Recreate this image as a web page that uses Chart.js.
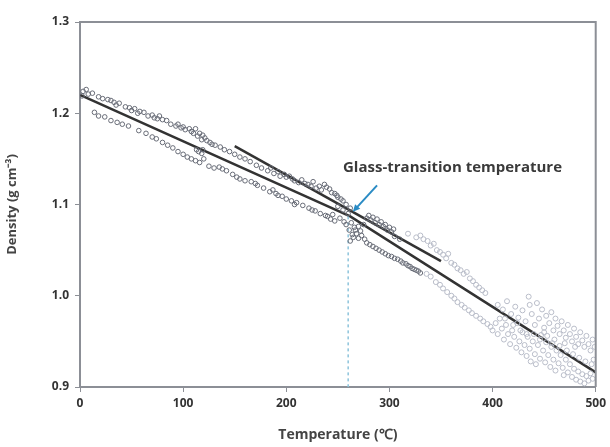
<!DOCTYPE html>
<html>
<head>
    <title>Density vs Temperature</title>
    <script src="https://cdn.jsdelivr.net/npm/chart.js"></script>
    <style>
        body { margin: 0; background: #fff; }
        .chart-box { width: 610px; height: 447px; }
    </style>
</head>
<body>
    <div class="chart-box"><canvas id="densityChart"></canvas></div>
    <script>
        // axis ticks
        const xTicks = [0, 100, 200, 300, 400, 500];
        const yTicks = [0.9, 1.0, 1.1, 1.2, 1.3];

        // measured points below ~330 C (darker markers)
        const glassX = [3,8,12,18,22,27,33,38,44,48,53,58,62,66,70,75,80,84,88,93,98,102,106,110,114,118,121,126,131,136,140,145,150,155,160,165,171,176,182,188,194,200,206,212,218,224,229,234,239,244,249,253,
            14,18,24,36,41,47,64,70,74,80,85,90,100,104,108,112,116,125,130,138,142,148,155,160,166,172,178,184,190,196,200,205,210,216,222,228,233,238,243,247,115,118,
            250,255,258,260,263,266,268,270,272,275,278,282,286,290,294,298,302,262,265,278,284,290,296,302,308,313,318,322,326,330,305,310,
            2,6,30,35,50,56,72,77,95,100,108,112,116,119,123,128,185,192,198,203,208,215,221,226,232,237,242,247,
            30,57,95,120,113,119,135,152,170,187,192,208,225,240,245,252,256,
            258,261,264,267,270,273,276,280,284,288,292,296,300,304,281,287,293,299,305,311,316,320,324,328,255,250,262];
        const glassY = [1.224,1.221,1.222,1.218,1.216,1.215,1.212,1.211,1.207,1.206,1.205,1.202,1.201,1.197,1.198,1.194,1.193,1.192,1.188,1.186,1.184,1.182,1.183,1.178,1.175,1.171,1.173,1.168,1.165,1.163,1.160,1.158,1.155,1.152,1.150,1.147,1.143,1.140,1.137,1.134,1.131,1.130,1.128,1.124,1.123,1.120,1.118,1.116,1.119,1.113,1.110,1.106,
            1.201,1.197,1.196,1.190,1.188,1.186,1.178,1.174,1.172,1.168,1.165,1.162,1.155,1.152,1.150,1.148,1.146,1.142,1.140,1.139,1.137,1.133,1.128,1.126,1.125,1.121,1.118,1.114,1.112,1.109,1.106,1.104,1.102,1.099,1.096,1.093,1.090,1.088,1.084,1.082,1.158,1.156,
            1.098,1.094,1.100,1.090,1.080,1.075,1.068,1.063,1.071,1.078,1.085,1.083,1.080,1.078,1.076,1.072,1.070,1.060,1.064,1.058,1.054,1.050,1.046,1.043,1.040,1.036,1.033,1.030,1.028,1.025,1.065,1.062,
            1.219,1.226,1.214,1.209,1.203,1.200,1.195,1.197,1.188,1.185,1.180,1.183,1.178,1.176,1.170,1.166,1.140,1.136,1.133,1.131,1.126,1.127,1.122,1.125,1.120,1.122,1.117,1.112,
            1.192,1.181,1.158,1.150,1.160,1.160,1.141,1.130,1.123,1.116,1.110,1.100,1.094,1.087,1.089,1.085,1.081,
            1.078,1.072,1.067,1.072,1.076,1.066,1.062,1.088,1.086,1.084,1.081,1.078,1.075,1.073,1.056,1.052,1.048,1.044,1.041,1.038,1.035,1.032,1.029,1.027,1.104,1.108,1.096];

        // measured points above ~330 C (lighter markers)
        const meltX = [318,326,330,333,337,340,343,346,349,352,355,357,360,363,366,369,372,375,378,381,384,387,390,393,
            336,340,345,349,352,356,360,363,366,370,373,377,380,384,388,391,395,398,
            400,403,405,407,409,411,413,415,417,419,421,423,424,426,428,429,431,433,434,436,437,439,441,442,444,446,447,449,451,452,454,456,457,459,461,462,464,466,468,469,471,473,475,477,479,481,483,485,487,489,491,493,495,497,
            405,410,414,418,422,425,429,432,435,436,438,441,443,445,448,450,452,455,457,459,461,463,465,467,469,471,473,475,477,479,481,483,485,487,489,491,493,495,497,499,
            412,420,427,433,440,446,453,458,465,472,478,484,490,496,498,480,470,460,450];
        const meltY = [1.068,1.064,1.066,1.062,1.060,1.055,1.057,1.050,1.048,1.045,1.041,1.046,1.036,1.034,1.030,1.028,1.024,1.026,1.019,1.016,1.012,1.009,1.006,1.003,
            1.024,1.021,1.015,1.012,1.008,1.004,1.000,0.997,0.993,0.990,0.987,0.984,0.981,0.978,0.975,0.972,0.969,0.966,
            0.962,0.970,0.958,0.975,0.964,0.952,0.968,0.958,0.947,0.962,0.955,0.943,0.970,0.950,0.938,0.960,0.946,0.934,0.955,0.942,0.928,0.950,0.936,0.925,0.946,0.931,0.957,0.940,0.927,0.949,0.935,0.922,0.944,0.930,0.918,0.940,0.926,0.935,0.921,0.913,0.930,0.916,0.925,0.911,0.920,0.908,0.917,0.906,0.914,0.904,0.912,0.907,0.915,0.909,
            0.990,0.985,0.994,0.980,0.988,0.976,0.984,0.972,0.999,0.990,0.980,0.968,0.992,0.975,0.985,0.965,0.978,0.970,0.982,0.962,0.975,0.967,0.958,0.972,0.962,0.954,0.968,0.958,0.950,0.964,0.955,0.947,0.960,0.951,0.944,0.956,0.947,0.940,0.952,0.944,
            0.975,0.968,0.962,0.958,0.958,0.952,0.956,0.948,0.945,0.940,0.936,0.932,0.928,0.925,0.930,0.944,0.948,0.952,0.960];

        // fitted lines
        const fitX = [0, 262, 500];
        const fitY = [1.220, 1.087, 0.916];
        const glassFitX = [150, 350];
        const glassFitY = [1.164, 1.038];

        // glass-transition marker
        const tgX = [260, 260];
        const tgY = [1.087, 0.9];
        const arrowX = [288, 264.5];
        const arrowY = [1.121, 1.092];
        const noteText = 'Glass-transition temperature';
        const notePos = [255, 1.140];

        const toPts = (xs, ys) => xs.map((x, i) => ({ x: x, y: ys[i] }));

        const axisGray = '#8c8f96';
        const labelFont = '"Open Sans"';

        // top / right frame, arrow and label
        const extras = {
            id: 'extras',
            afterDatasetsDraw(chart) {
                const c = chart.ctx, a = chart.chartArea;
                const xs = chart.scales.x, ys = chart.scales.y;
                c.save();
                c.strokeStyle = axisGray;
                c.lineWidth = 2;
                c.beginPath();
                c.moveTo(a.left, a.top);
                c.lineTo(a.right, a.top);
                c.lineTo(a.right, a.bottom);
                c.stroke();

                const x0 = xs.getPixelForValue(arrowX[0]), y0 = ys.getPixelForValue(arrowY[0]);
                const x1 = xs.getPixelForValue(arrowX[1]), y1 = ys.getPixelForValue(arrowY[1]);
                const ang = Math.atan2(y1 - y0, x1 - x0);
                c.strokeStyle = '#2a8bc4';
                c.fillStyle = '#2a8bc4';
                c.lineWidth = 2;
                c.beginPath();
                c.moveTo(x0, y0);
                c.lineTo(x1 - 5 * Math.cos(ang), y1 - 5 * Math.sin(ang));
                c.stroke();
                c.beginPath();
                c.moveTo(x1, y1);
                c.lineTo(x1 - 8 * Math.cos(ang - 0.45), y1 - 8 * Math.sin(ang - 0.45));
                c.lineTo(x1 - 8 * Math.cos(ang + 0.45), y1 - 8 * Math.sin(ang + 0.45));
                c.closePath();
                c.fill();

                c.fillStyle = '#3a3a3a';
                c.font = 'bold 15px ' + labelFont;
                c.textBaseline = 'middle';
                c.fillText(noteText, xs.getPixelForValue(notePos[0]), ys.getPixelForValue(notePos[1]));
                c.restore();
            }
        };

        const ctx = document.getElementById('densityChart').getContext('2d');
        new Chart(ctx, {
            type: 'scatter',
            data: {
                datasets: [{
                    data: toPts(glassX, glassY),
                    pointRadius: 2.3,
                    pointBorderWidth: 1,
                    pointBackgroundColor: 'rgba(0,0,0,0)',
                    pointBorderColor: '#686c77'
                }, {
                    data: toPts(meltX, meltY),
                    pointRadius: 2.5,
                    pointBorderWidth: 1,
                    pointBackgroundColor: 'rgba(0,0,0,0)',
                    pointBorderColor: '#b9bdc9'
                }, {
                    type: 'line',
                    data: toPts(tgX, tgY),
                    borderColor: '#8cc4dc',
                    borderWidth: 1.5,
                    borderDash: [3, 3],
                    pointRadius: 0
                }, {
                    type: 'line',
                    data: toPts(fitX, fitY),
                    borderColor: '#333333',
                    borderWidth: 2.5,
                    pointRadius: 0
                }, {
                    type: 'line',
                    data: toPts(glassFitX, glassFitY),
                    borderColor: '#333333',
                    borderWidth: 2.5,
                    pointRadius: 0
                }]
            },
            options: {
                responsive: true,
                maintainAspectRatio: false,
                animation: false,
                layout: { padding: { top: 22, right: 14, left: 0, bottom: 0 } },
                plugins: {
                    legend: { display: false },
                    tooltip: { enabled: false }
                },
                scales: {
                    x: {
                        type: 'linear',
                        min: 0,
                        max: 500,
                        afterBuildTicks: s => { s.ticks = xTicks.map(v => ({ value: v })); },
                        afterFit: s => { s.height = 60; },
                        border: { color: axisGray, width: 2 },
                        grid: { drawOnChartArea: false, color: axisGray, tickLength: 5 },
                        ticks: {
                            color: '#333',
                            padding: 4,
                            font: { family: labelFont, size: 12, weight: 'bold' }
                        },
                        title: {
                            display: true,
                            text: 'Temperature (℃)',
                            color: '#444',
                            padding: { top: 4 },
                            font: { family: labelFont, size: 14, weight: 'bold' }
                        }
                    },
                    y: {
                        min: 0.9,
                        max: 1.3,
                        afterBuildTicks: s => { s.ticks = yTicks.map(v => ({ value: v })); },
                        afterFit: s => { s.width = 80; },
                        border: { color: axisGray, width: 2 },
                        grid: { drawOnChartArea: false, color: axisGray, tickLength: 5 },
                        ticks: {
                            color: '#333',
                            padding: 6,
                            callback: v => v.toFixed(1),
                            font: { family: labelFont, size: 12, weight: 'bold' }
                        },
                        title: {
                            display: true,
                            text: 'Density (g cm⁻³)',
                            color: '#444',
                            padding: { bottom: 8 },
                            font: { family: labelFont, size: 13, weight: 'bold' }
                        }
                    }
                }
            },
            plugins: [extras]
        });
    </script>
</body>
</html>
